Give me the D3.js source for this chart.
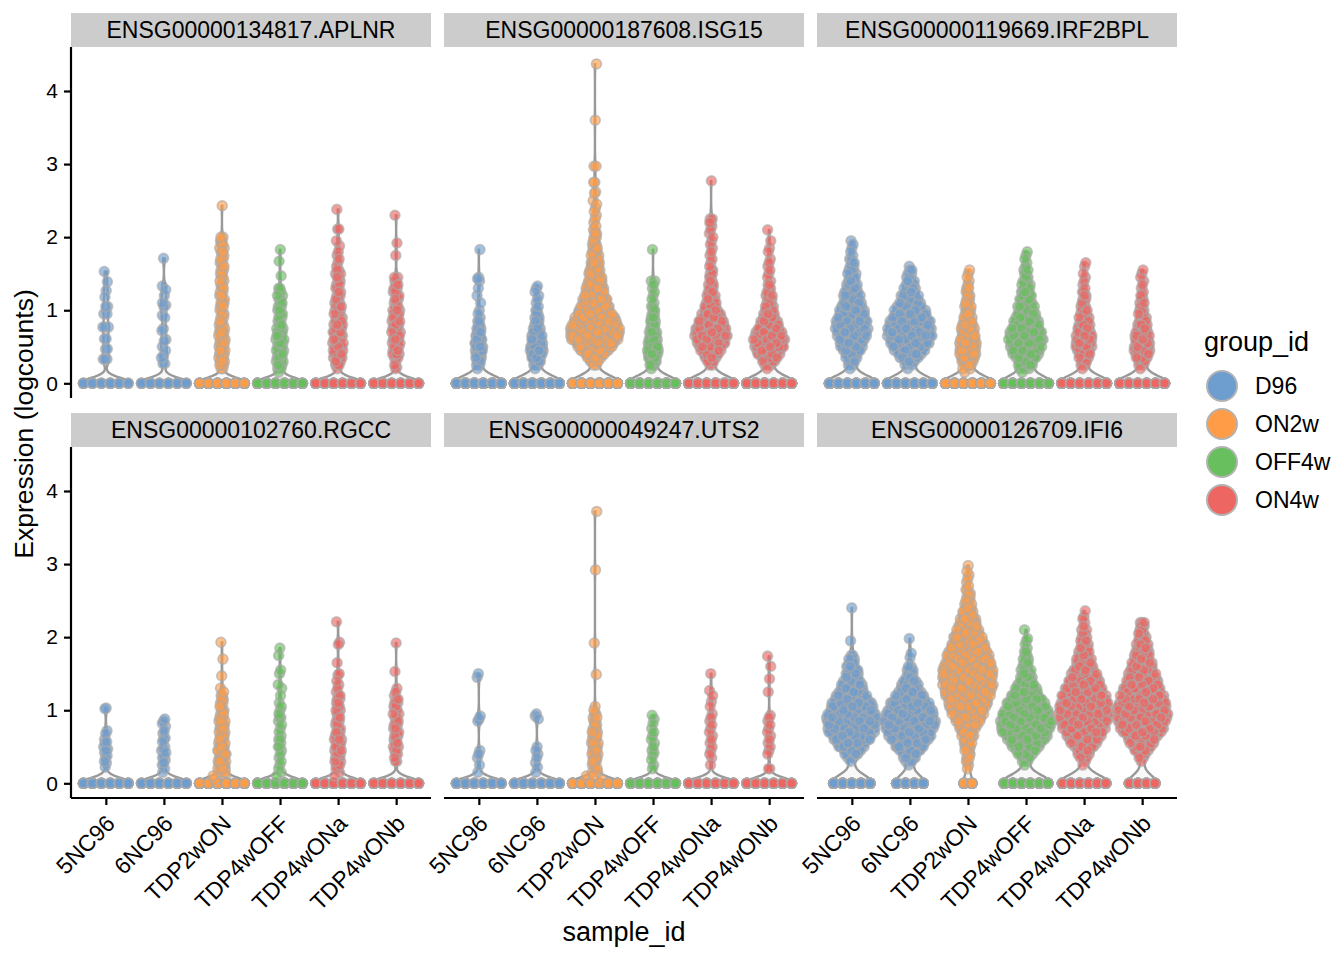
<!DOCTYPE html>
<html><head><meta charset="utf-8">
<script src="https://cdn.jsdelivr.net/npm/d3@7"></script>
<style>html,body{margin:0;padding:0;background:#fff}svg{display:block}text{font-family:"Liberation Sans",Arial,sans-serif;fill:#000}</style>
</head><body><svg id="c" width="1344" height="960"></svg>
<script>
// ---- categories
const samples = ["5NC96","6NC96","TDP2wON","TDP4wOFF","TDP4wONa","TDP4wONb"];
const sampleGroup = ["D96","D96","ON2w","OFF4w","ON4w","ON4w"];
const groups = ["D96","ON2w","OFF4w","ON4w"];
const groupColors = ["#6E9DCF","#FF9C47","#68BF5D","#EE6661"];
const genes = ["ENSG00000134817.APLNR","ENSG00000187608.ISG15","ENSG00000119669.IRF2BPL","ENSG00000102760.RGCC","ENSG00000049247.UTS2","ENSG00000126709.IFI6"];
const yTicks = [0,1,2,3,4];
const geneBandwidth = [0.07,0.1,0.1,0.07,0.07,0.11];
// ---- number of cells at zero, per sample
const zeros_APLNR = [26,28,80,65,65,60];
const zeros_ISG15 = [150,130,130,140,120,110];
const zeros_IRF2BPL = [90,75,120,90,110,110];
const zeros_RGCC = [60,55,80,70,70,60];
const zeros_UTS2 = [55,55,75,60,60,60];
const zeros_IFI6 = [90,65,22,110,100,60];
// ---- cell counts in 0.05 steps starting at 0.05, per sample
const counts_APLNR = [[],[],
 [0,0,0,2,3,3,3,3,3,3,3,3,3,3,3,3,2,2,2,2,2,3,2,2,2,2,2,2,2,2,2,2,2,2,2,2,2,2,2,2],
 [0,0,1,2,3,3,3,3,3,3,3,3,3,3,3,2,2,2,2,2,2,2,2,2,2,2],
 [0,0,0,1,3,3,4,4,4,4,4,4,4,4,4,4,3,3,3,3,3,3,2,2,2,2,2,2,2,2,2,1,1,1,1,1],
 [0,0,0,0,1,1,2,3,3,3,3,3,3,3,3,3,3,3,3,3,2,2,2,2,2,2,2,2,2]];
const counts_ISG15 = [
 [0,0,0,1,2,3,4,5,5,6,5,4,4,3,3,2,2,1,1,1],
 [0,0,0,1,3,4,6,7,8,8,7,6,5,5,4,3,3,2,2,2,1,1,1,1,1,1],
 [0,0,0,0,2,4,7,10,14,18,22,26,28,28,26,24,22,20,18,16,14,13,12,11,10,9,8,8,7,6,6,5,5,4,4,3,3,3,2,2,2,2,1,1,1,1,1,1,1,1,0,1],
 [0,0,0,1,3,4,6,7,7,7,6,5,4,4,4,3,3,3,2,2,2,1,1,1,1,1,1,1],
 [0,0,0,0,2,3,5,8,10,12,14,16,17,17,15,14,12,10,8,7,6,5,4,4,3,3,3,2,2,2,2,1,1,1,1,1,1,1,1,1,1,1,1,1,1],
 [0,0,0,1,3,5,8,10,13,14,15,15,14,12,10,8,7,6,5,4,4,3,3,3,2,2,2,1,1,1,1,1,1,1,0,0,1,0]];
const counts_IRF2BPL = [
 [0,0,0,1,2,3,4,6,7,8,9,10,11,12,12,12,12,11,10,9,8,7,6,6,5,5,4,4,3,3,3,2,2,2,1,1,1,1,1],
 [0,0,0,1,2,4,6,8,10,11,12,13,14,14,14,13,13,12,10,9,8,7,6,5,4,4,3,3,2,2,2,1],
 [0,0,1,2,4,6,8,9,9,9,8,8,7,7,6,6,5,4,4,3,3,3,2,2,2,2,1,1,1,1,1],
 [0,0,1,3,5,7,8,10,11,12,13,13,13,12,11,10,9,8,7,6,6,5,5,4,4,3,3,3,2,2,2,1,1,1,1,1],
 [0,0,0,1,2,3,5,6,7,8,8,8,7,7,6,5,5,4,4,3,3,2,2,2,2,1,1,1,1,1,0,1,1],
 [0,0,0,1,2,4,6,7,8,8,8,7,6,6,5,5,4,3,3,3,2,2,2,2,1,1,1,1,1,1,1]];
const counts_RGCC = [[],[],
 [1,2,3,4,4,4,4,4,4,4,3,3,3,3,3,3,3,3,2,2,2,2,2,2,1],
 [],
 [0,1,1,2,2,3,3,3,3,3,3,3,3,3,2,2,2,2,2,2,2,2,2,2,1,1,1,1],
 [0,0,0,0,0,1,1,2,2,2,2,2,2,2,2,2,2,2,2,2,2,2,2,1,1,1]];
const counts_UTS2 = [[],[],
 [2,2,2,2,2,3,3,3,3,3,3,3,3,3,2,2,2,2,2,1,1],
 [],[],[]];
const counts_IFI6 = [
 [0,0,0,0,0,1,3,5,8,10,13,15,17,19,20,21,22,21,20,19,17,15,14,12,11,9,8,7,6,5,5,4,3,3,2],
 [0,0,0,0,1,3,5,7,9,11,13,15,17,19,20,21,21,21,20,19,17,15,13,11,9,8,6,5,4,3,3,2],
 [0,0,0,1,1,2,2,2,3,3,4,4,5,6,7,9,11,13,15,16,17,18,19,20,21,22,23,23,24,24,23,22,21,20,19,18,17,15,14,12,11,10,9,8,7,6,5,4,3,3,2,2,2,1,1,1,1],
 [0,0,0,0,1,2,4,6,9,11,13,16,18,20,21,22,22,21,20,18,17,15,13,12,10,8,7,6,5,4,4,3,3,2,2,2,1,1,1],
 [0,0,0,0,1,1,3,4,6,8,10,12,13,15,16,17,18,19,20,20,19,18,17,16,15,14,13,12,10,9,8,7,6,5,5,4,4,3,3,3,2,2,1,1,1],
 [0,0,0,0,0,1,2,4,5,7,9,11,13,15,17,18,19,20,20,20,19,18,17,16,15,14,13,12,11,10,9,8,8,7,6,6,5,4,4,3,3,2,2,2]];
// ---- individually read cell values, per sample
const values_APLNR = [
 [1.53,1.39,1.27,1.18,1.05,1.05,0.95,0.95,0.77,0.77,0.77,0.61,0.61,0.47,0.47,0.33,0.33,0.33],
 [1.71,1.33,1.28,1.2,1.1,1.07,1.05,0.93,0.9,0.75,0.72,0.6,0.58,0.5,0.45,0.38,0.35,0.27,0.27],
 [2.43],[1.83,1.67,1.47],[2.38,2.11,2.11,1.95,1.88],[2.3,1.92,1.75,0.22,0.2]];
const values_ISG15 = [
 [1.83,1.45,1.43,1.4,1.3,1.2,1.1],[1.33],[2.75,2.75,2.62,2.97,2.97,3.6,4.37],[1.83,1.4],[2.77,2.25,2.2],[2.1,1.95,1.8]];
const values_IRF2BPL = [[],[],[],[],[],[]];
const values_RGCC = [
 [1.03,1.02,0.72,0.68,0.6,0.57,0.55,0.5,0.47,0.45,0.42,0.38,0.35,0.3,0.28,0.22],
 [0.88,0.85,0.82,0.78,0.72,0.68,0.62,0.6,0.57,0.5,0.47,0.45,0.42,0.38,0.35,0.32,0.28,0.25,0.2,0.15],
 [1.93,1.7,1.47,1.3],
 [0.1,0.15,0.2,0.25,0.3,0.35,0.4,0.45,0.5,0.5,0.55,0.6,0.6,0.65,0.7,0.75,0.8,0.85,0.9,0.9,0.95,1,1.05,1.1,1.2,1.3,1.35,1.5,1.55,1.75,1.85],
 [2.21,1.93,1.9,1.65,1.5,1.48],[1.92,1.53,0.3]];
const values_UTS2 = [
 [1.5,1.45,0.92,0.88,0.85,0.45,0.4,0.35,0.25,0.15],
 [0.95,0.92,0.88,0.5,0.45,0.4,0.35,0.28,0.22,0.15],
 [3.72,2.92,1.92,1.49],
 [0.93,0.88,0.82,0.75,0.7,0.65,0.6,0.55,0.5,0.45,0.42,0.38,0.32,0.25,0.2],
 [1.5,1.27,1.2,1.12,1.05,0.95,0.9,0.85,0.8,0.75,0.7,0.65,0.6,0.55,0.5,0.45,0.4,0.35,0.25],
 [1.74,1.6,1.43,1.25,0.93,0.9,0.85,0.8,0.75,0.7,0.65,0.6,0.55,0.5,0.45,0.4,0.2,0.2]];
const values_IFI6 = [[1.95,2.4],[1.98,1.78,1.72],[2.98,2.9],[2.1,1.98],[2.36,2.28],[2.2,2.15]];

const zerosByGene = [zeros_APLNR,zeros_ISG15,zeros_IRF2BPL,zeros_RGCC,zeros_UTS2,zeros_IFI6];
const countsByGene = [counts_APLNR,counts_ISG15,counts_IRF2BPL,counts_RGCC,counts_UTS2,counts_IFI6];
const valuesByGene = [values_APLNR,values_ISG15,values_IRF2BPL,values_RGCC,values_UTS2,values_IFI6];

// ---- layout
const panelX = [71,444,817], panelW = 360;
const panelY = [47,447], panelH = 351, stripH = 34;
const halfW = 26;
const color = d3.scaleOrdinal(groups, groupColors);
const svg = d3.select("#c");
const vdc = (i,b=2) => { let r=0,f=1/b; while(i>0){ r+=f*(i%b); i=Math.floor(i/b); f/=b; } return r; };

function expand(g,s){
  const out=[];
  countsByGene[g][s].forEach((c,i)=>{ for(let k=0;k<c;k++) out.push(+(0.05*(i+1)).toFixed(2)); });
  return out.concat(valuesByGene[g][s]).sort(d3.ascending);
}

genes.forEach((gene,g)=>{
  const col=g%3,row=Math.floor(g/3);
  const px=panelX[col],py=panelY[row];
  const x=d3.scalePoint().domain(samples).range([px,px+panelW]).padding(0.6);
  const y=d3.scaleLinear().domain([-0.201,4.602]).range([py+panelH,py]);
  const gp=svg.append("g");
  gp.append("rect").attr("x",px).attr("y",py-stripH).attr("width",panelW).attr("height",stripH).attr("fill","#cccccc");
  gp.append("text").attr("x",px+panelW/2).attr("y",py-stripH/2+8.3).attr("text-anchor","middle").attr("font-size",23).text(gene);

  samples.forEach((s,si)=>{
    const nz=expand(g,si), z0=zerosByGene[g][si], bw=geneBandwidth[g];
    const vmax=d3.max(nz);
    const dens=v=>{
      let t=z0*Math.exp(-0.5*(v/bw)**2);
      for(const a of nz) t+=Math.exp(-0.5*((v-a)/bw)**2);
      return t;
    };
    const grid=d3.range(0,121).map(i=>vmax*i/120);
    const dmax=d3.max(grid,dens);
    const cx=x(s);
    const w=d3.scaleLinear().domain([-1,1]).range([cx-halfW,cx+halfW]);
    const area=d3.area().x0(v=>w(-dens(v)/dmax)).x1(v=>w(dens(v)/dmax)).y(v=>y(v));
    gp.append("path").attr("d",area(grid)+"").attr("fill","#f8f8f8").attr("stroke","#999999").attr("stroke-width",2.4).attr("stroke-linejoin","round");

    const fill=color(sampleGroup[si]);
    // zero row: cells sit on evenly spaced slots across the violin base
    const zw=dens(0)/dmax*0.86;
    const slots=Math.max(2,Math.round(zw*2*halfW/8.5)+1);
    const pts=[];
    for(let i=0;i<z0;i++){
      const slot=Math.floor(vdc(i+1)*slots);
      pts.push({v:0,o:-zw+2*zw*slot/(slots-1),k:i});
    }
    const n0=pts.length;
    nz.forEach((v,i)=>{
      const r=dens(v)/dmax;
      pts.push({v,o:(2*vdc(i+1,3)-1)*Math.max(r,0.07),k:n0+i});
    });
    // paint order follows the base-2 sequence; horizontal offset follows base 3
    pts.sort((a,b)=>vdc(a.k+1)-vdc(b.k+1));
    gp.append("g").selectAll("circle").data(pts).join("circle")
      .attr("cx",d=>w(d.o)).attr("cy",d=>y(d.v)).attr("r",4.9)
      .attr("fill",fill).attr("fill-opacity",0.64).attr("stroke","#a9a9a9").attr("stroke-opacity",0.62).attr("stroke-width",1.8);
  });

  if(col===0){
    const a=gp.append("g").attr("transform",`translate(${px},0)`).call(d3.axisLeft(y).tickValues(yTicks).tickSize(7).tickPadding(6).tickFormat(d3.format("d")));
    a.selectAll("line,path").attr("stroke","#000").attr("stroke-width",2.2);
    a.select("path").attr("d",`M0,${py}V${py+panelH}`);
    a.selectAll("text").attr("font-size",21).attr("font-family",null).attr("fill","#000");
  }
  if(row===1){
    const a=gp.append("g").attr("transform",`translate(0,${py+panelH})`).call(d3.axisBottom(x).tickSize(7).tickPadding(6));
    a.selectAll("line,path").attr("stroke","#000").attr("stroke-width",2.2);
    a.select("path").attr("d",`M${px},0H${px+panelW}`);
    a.selectAll("text").attr("font-size",23).attr("font-family",null).attr("fill","#000")
      .attr("text-anchor","end").attr("dy",null).attr("y",0)
      .attr("transform","translate(10,27) rotate(-45)");
  }
});

svg.append("text").attr("transform","translate(33,424) rotate(-90)").attr("text-anchor","middle").attr("font-size",26.5).text("Expression (logcounts)");
svg.append("text").attr("x",624).attr("y",941).attr("text-anchor","middle").attr("font-size",27).text("sample_id");

svg.append("text").attr("x",1204).attr("y",351).attr("font-size",27).text("group_id");
const legY=d3.scalePoint().domain(groups).range([386,500]);
groups.forEach(k=>{
  svg.append("circle").attr("cx",1222).attr("cy",legY(k)).attr("r",15).attr("fill",color(k)).attr("stroke","#b3b3b3").attr("stroke-width",2);
  svg.append("text").attr("x",1255).attr("y",legY(k)+8).attr("font-size",23).text(k);
});
</script></body></html>
